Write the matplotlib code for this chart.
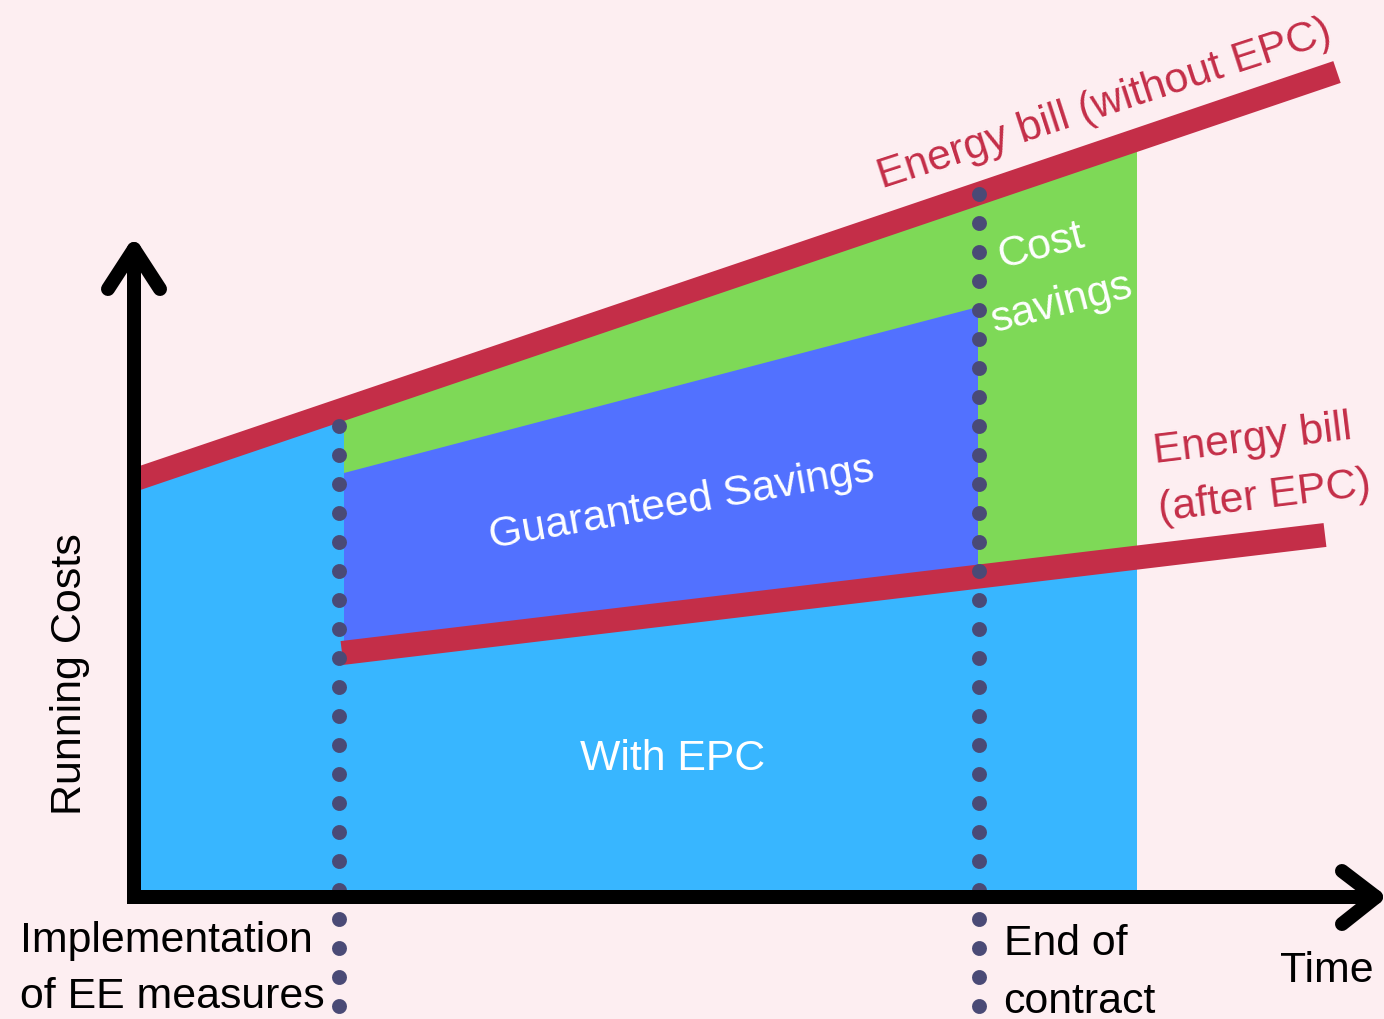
import matplotlib.pyplot as plt
import numpy as np

# diagram geometry, in picture pixels (y grows downwards)
x_axis, y_axis = 134, 898
x_impl, x_end, x_stop = 344, 978, 1137

bill_without_x = [134, 1337]
bill_without_y = [481, 73]
bill_after_x = [342, 1325]
bill_after_y = [654, 536]
guaranteed_top_x = [x_impl, x_end]
guaranteed_top_y = [474, 308]

dots_x = [339, 979]
dots_top = [427, 195]

bg = "#FDEEF1"
red = "#C42E48"
light_blue = "#38B6FF"
blue = "#5271FF"
green = "#7ED957"
dot_col = "#4A4A76"

plt.rcParams["font.family"] = ["Liberation Sans", "DejaVu Sans"]


def on_line(xs, ys, x):
    return np.interp(x, xs, ys)


fig = plt.figure(figsize=(13.84, 10.20), dpi=100, facecolor=bg)
ax = fig.add_axes([0, 0, 1, 1])
ax.set_facecolor(bg)
ax.set_xlim(0, 1384)
ax.set_ylim(1020, 0)
ax.axis("off")

up = lambda x: on_line(bill_without_x, bill_without_y, x)
low = lambda x: on_line(bill_after_x, bill_after_y, x)

# areas
ax.fill([x_axis, x_impl, x_impl, x_stop, x_stop, x_axis],
        [up(x_axis), up(x_impl), low(x_impl), low(x_stop), y_axis, y_axis],
        color=light_blue, lw=0)
ax.fill([x_impl, x_stop, x_stop, x_impl],
        [up(x_impl), up(x_stop), low(x_stop), low(x_impl)],
        color=green, lw=0)
ax.fill([guaranteed_top_x[0], guaranteed_top_x[1], x_end, x_impl],
        [guaranteed_top_y[0], guaranteed_top_y[1], low(x_end), low(x_impl)],
        color=blue, lw=0)

# energy bill lines
ax.plot(bill_without_x, bill_without_y, color=red, lw=23 * 0.72,
        solid_capstyle="butt")
ax.plot(bill_after_x, bill_after_y, color=red, lw=24 * 0.72,
        solid_capstyle="butt")

# dotted markers for implementation / end of contract
for dx, dt in zip(dots_x, dots_top):
    ax.plot([dx, dx], [dt, 1040], color=dot_col, lw=15 * 0.72,
            linestyle=(0, (0.001, 29 / 15 - 0.001)), dash_capstyle="round")

# axes with arrows
ak = dict(color="black", lw=14 * 0.72, solid_capstyle="round",
          solid_joinstyle="miter")
ax.plot([x_axis, x_axis, 1376], [250, y_axis, y_axis], **ak)
ak["solid_joinstyle"] = "round"
ax.plot([108, x_axis, 160], [290, 250, 290], **ak)
ax.plot([1342, 1376, 1342], [872, y_axis, 925], **ak)

fs = 30.8
ax.text(882, 188, "Energy bill (without EPC)", color=red, fontsize=fs,
        rotation=18, rotation_mode="anchor", ha="left", va="baseline")
ax.text(1155, 463, "Energy bill", color=red, fontsize=fs,
        rotation=7, rotation_mode="anchor", ha="left", va="baseline")
ax.text(1160, 521, "(after EPC)", color=red, fontsize=fs,
        rotation=7, rotation_mode="anchor", ha="left", va="baseline")
ax.text(491, 548, "Guaranteed Savings", color="white", fontsize=fs,
        rotation=10, rotation_mode="anchor", ha="left", va="baseline")
ax.text(1002, 268, "Cost", color="white", fontsize=fs,
        rotation=14.5, rotation_mode="anchor", ha="left", va="baseline")
ax.text(995, 332, "savings", color="white", fontsize=fs,
        rotation=14.5, rotation_mode="anchor", ha="left", va="baseline")
ax.text(580, 770, "With EPC", color="white", fontsize=fs,
        ha="left", va="baseline")
ax.text(70, 674, "Running Costs", color="black", fontsize=31,
        rotation=90, ha="center", va="center")
ax.text(20, 952, "Implementation", fontsize=fs, ha="left", va="baseline")
ax.text(20, 1008, "of EE measures", fontsize=fs, ha="left", va="baseline")
ax.text(1004, 955, "End of", fontsize=fs, ha="left", va="baseline")
ax.text(1003, 1013, "contract", fontsize=fs, ha="left", va="baseline")
ax.text(1280, 982, "Time", fontsize=fs, ha="left", va="baseline")

fig.savefig("out.png", dpi=100, facecolor=bg)
